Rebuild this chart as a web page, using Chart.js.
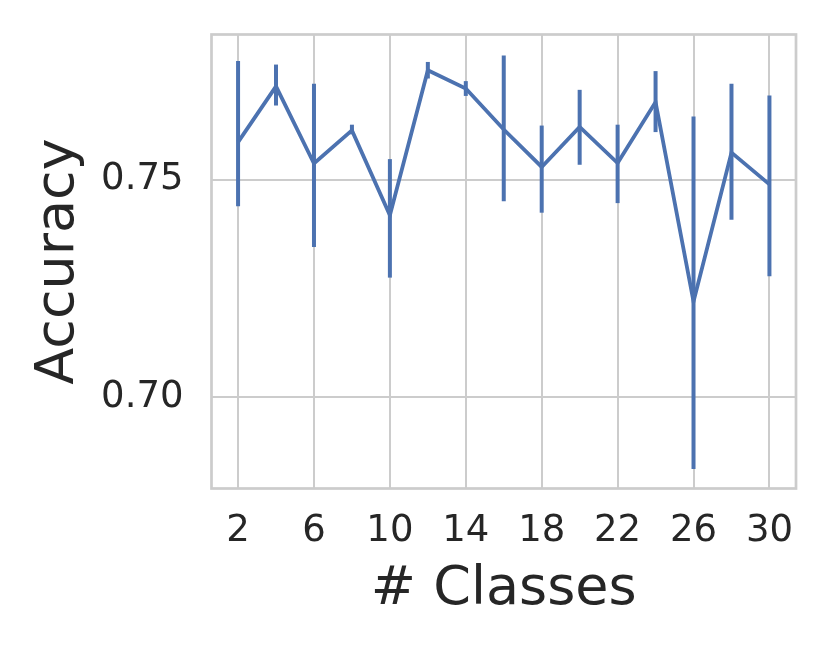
<!DOCTYPE html>
<html>
<head>
<meta charset="utf-8">
<script src="https://cdn.jsdelivr.net/npm/chart.js@4"></script>
<style>
  html, body { margin: 0; padding: 0; background: #ffffff; }
  #wrap { width: 832px; height: 653px; }
</style>
</head>
<body>
<div id="wrap"><canvas id="c" width="832" height="653"></canvas></div>
<script>
// ---- data ----
const classes  = [2, 4, 6, 8, 10, 12, 14, 16, 18, 20, 22, 24, 26, 28, 30];
const accuracy = [0.7586, 0.7714, 0.7537, 0.7613, 0.7418, 0.7751, 0.7709, 0.7615, 0.7529, 0.7621, 0.7538, 0.7678, 0.7220, 0.7562, 0.7489];
const errHigh  = [0.7772, 0.7764, 0.7720, 0.7626, 0.7547, 0.7770, 0.7726, 0.7785, 0.7624, 0.7706, 0.7626, 0.7749, 0.7645, 0.7720, 0.7693];
const errLow   = [0.7439, 0.7670, 0.7345, 0.7604, 0.7275, 0.7732, 0.7692, 0.7450, 0.7424, 0.7534, 0.7446, 0.7609, 0.6836, 0.7408, 0.7278];
const xTicks   = [2, 6, 10, 14, 18, 22, 26, 30];
const yTicks   = [0.70, 0.75];
const xLabel   = '# Classes';
const yLabel   = 'Accuracy';

const lineColor = '#4c72b0';
const gridColor = '#cccccc';
const textColor = '#262626';

const errorBars = {
  id: 'errorBars',
  afterDatasetsDraw(chart) {
    const {ctx, scales: {x, y}} = chart;
    ctx.save();
    ctx.strokeStyle = lineColor;
    ctx.lineWidth = 4;
    ctx.lineCap = 'butt';
    classes.forEach((c, i) => {
      const px = x.getPixelForValue(c);
      ctx.beginPath();
      ctx.moveTo(px, y.getPixelForValue(errLow[i]));
      ctx.lineTo(px, y.getPixelForValue(errHigh[i]));
      ctx.stroke();
    });
    ctx.restore();
  }
};

const frame = {
  id: 'frame',
  beforeDatasetsDraw(chart) {
    const {ctx, chartArea: a} = chart;
    ctx.save();
    ctx.strokeStyle = gridColor;
    ctx.lineWidth = 2.7;
    ctx.strokeRect(a.left, a.top, a.right - a.left, a.bottom - a.top);
    ctx.restore();
  }
};

new Chart(document.getElementById('c'), {
  type: 'line',
  data: {
    datasets: [{
      data: classes.map((c, i) => ({x: c, y: accuracy[i]})),
      borderColor: lineColor,
      borderWidth: 3.8,
      borderJoinStyle: 'miter',
      pointRadius: 0,
      fill: false,
      tension: 0
    }]
  },
  options: {
    responsive: false,
    animation: false,
    devicePixelRatio: 1,
    layout: { padding: { left: 27, right: 36, top: 34.5, bottom: 30.3 } },
    plugins: { legend: { display: false }, tooltip: { enabled: false } },
    scales: {
      x: {
        type: 'linear',
        min: 0.6, max: 31.4,
        afterBuildTicks(s) { s.ticks = xTicks.map(v => ({value: v})); },
        afterFit(s) { s.height = 134.2; s.paddingLeft = 0; s.paddingRight = 0; },
        grid: { color: gridColor, lineWidth: 2, drawTicks: false },
        border: { display: false },
        ticks: {
          color: textColor, padding: 21,
          font: { family: 'DejaVu Sans', size: 37 },
          maxRotation: 0, autoSkip: false,
          callback: v => String(v)
        },
        title: {
          display: true, text: xLabel, color: textColor,
          padding: 0,
          font: { family: 'DejaVu Sans', size: 54, lineHeight: 1.2 }
        }
      },
      y: {
        type: 'linear',
        min: 0.6791, max: 0.7833,
        afterBuildTicks(s) { s.ticks = yTicks.map(v => ({value: v})); },
        afterFit(s) { s.width = 184.5; s.paddingTop = 0; s.paddingBottom = 0; },
        grid: { color: gridColor, lineWidth: 2, drawTicks: false },
        border: { display: false },
        ticks: {
          color: textColor, padding: 28,
          font: { family: 'DejaVu Sans', size: 37 },
          autoSkip: false,
          callback: v => v.toFixed(2)
        },
        title: {
          display: true, text: yLabel, color: textColor,
          padding: 0,
          font: { family: 'DejaVu Sans', size: 54, lineHeight: 1.2 }
        }
      }
    }
  },
  plugins: [frame, errorBars]
});
</script>
</body>
</html>
